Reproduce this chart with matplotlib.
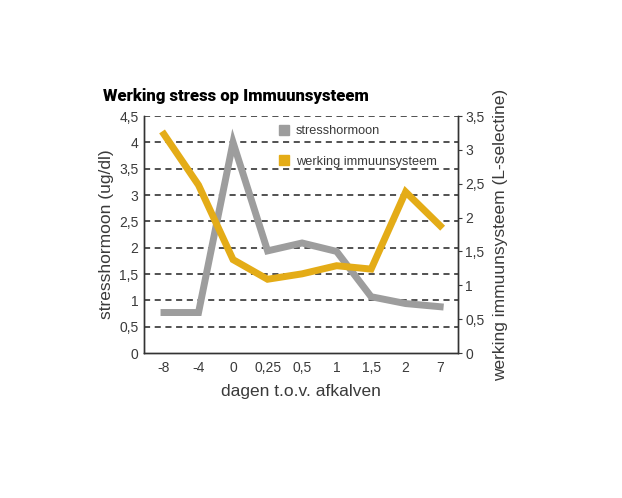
import matplotlib.pyplot as plt
from matplotlib.ticker import FuncFormatter, MultipleLocator
from matplotlib.lines import Line2D

# data
dagen = ['-8', '-4', '0', '0,25', '0,5', '1', '1,5', '2', '7']
stresshormoon = [0.77, 0.77, 4.0, 1.94, 2.09, 1.93, 1.07, 0.94, 0.88]
immuunsysteem = [3.23, 2.48, 1.38, 1.09, 1.17, 1.29, 1.24, 2.38, 1.88]

grijs = '#9d9d9d'
geel = '#e4ac17'
tekst = '#3a3a3a'

plt.rcParams['font.family'] = ['Liberation Sans', 'DejaVu Sans']

def komma(v, pos):
    s = ('%g' % v)
    return s.replace('.', ',')

fig = plt.figure(figsize=(6.22, 4.98), dpi=100)
ax = fig.add_axes([0.2315, 0.291, 0.505, 0.476])
ax2 = ax.twinx()

x = list(range(len(dagen)))
ax.plot(x, stresshormoon, color=grijs, lw=5, solid_joinstyle='miter', zorder=3)
ax2.plot(x, immuunsysteem, color=geel, lw=5, solid_joinstyle='miter', zorder=4)

ax.set_ylim(0, 4.5)
ax2.set_ylim(0, 3.5)
ax.set_xlim(-0.58, 8.52)
ax.set_xticks(x)
ax.set_xticklabels(dagen)

ax.yaxis.set_major_locator(MultipleLocator(0.5))
ax2.yaxis.set_major_locator(MultipleLocator(0.5))
ax.yaxis.set_major_formatter(FuncFormatter(komma))
ax2.yaxis.set_major_formatter(FuncFormatter(komma))

for y in [0.5 * i for i in range(1, 10)]:
    ax.axhline(y, color='#222222', lw=1.1, ls=(0, (4, 3)), zorder=1)

for a in (ax, ax2):
    a.spines['top'].set_visible(False)
    for s in ('left', 'right', 'bottom'):
        a.spines[s].set_color('#333333')
        a.spines[s].set_linewidth(1.0)
    a.tick_params(labelsize=10, colors=tekst, length=3, width=0.8, pad=3)
ax.tick_params(axis='y', length=0, pad=4)
ax.tick_params(axis='x', length=0, pad=6)
ax2.tick_params(axis='y', length=3, pad=2)

ax.set_xlabel('dagen t.o.v. afkalven', fontsize=12.5, color=tekst, labelpad=6)
ax.set_ylabel('stresshormoon (ug/dl)', fontsize=12.5, color=tekst, labelpad=4)
ax2.set_ylabel('werking immuunsysteem (L-selectine)', fontsize=12.5, color=tekst, labelpad=6)

handles = [Line2D([], [], color=grijs, marker='s', ls='none', markersize=7),
           Line2D([], [], color=geel, marker='s', ls='none', markersize=7)]
leg = ax2.legend(handles, ['stresshormoon', 'werking immuunsysteem'],
                 loc='upper left', bbox_to_anchor=(0.39, 1.01), frameon=False,
                 fontsize=9.2, handletextpad=0.4, labelspacing=1.45,
                 handlelength=1.0)
for t in leg.get_texts():
    t.set_color(tekst)

fig.text(0.165, 0.797, 'Werking stress op Immuunsysteem', fontsize=12,
         fontweight='black', color='black', family=['Roboto', 'DejaVu Sans'])

fig.savefig('out.png', dpi=100)
